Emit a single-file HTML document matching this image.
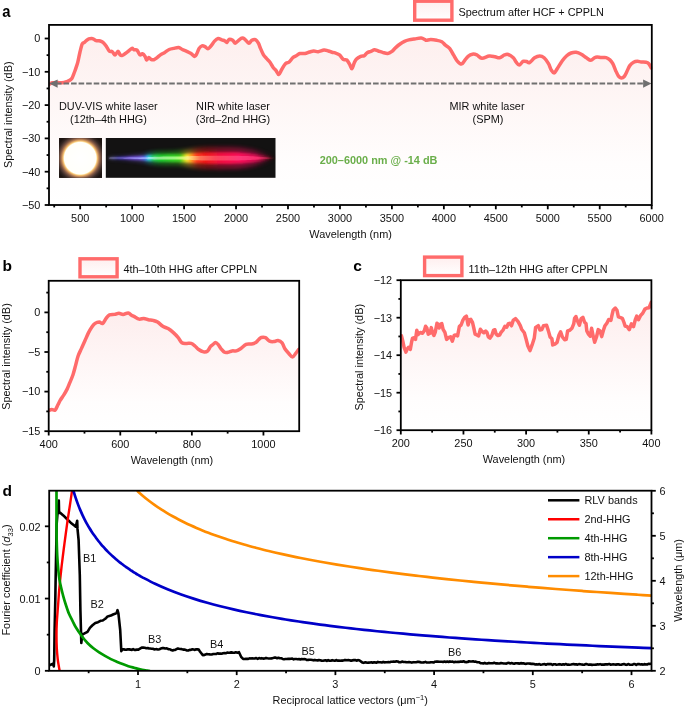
<!DOCTYPE html>
<html><head><meta charset="utf-8"><style>
html,body{margin:0;padding:0;background:#fff;}
svg{display:block;font-family:"Liberation Sans", sans-serif;will-change:transform;}
</style></head><body>
<svg width="685" height="707" viewBox="0 0 685 707">
<rect width="685" height="707" fill="#fff"/>
<defs>
<linearGradient id="gA" x1="0" y1="0" x2="0" y2="1"><stop offset="0" stop-color="#fdefee"/><stop offset="0.75" stop-color="#fffdfd"/><stop offset="1" stop-color="#ffffff"/></linearGradient>
<linearGradient id="gB" x1="0" y1="0" x2="0" y2="1"><stop offset="0" stop-color="#fdeded"/><stop offset="0.75" stop-color="#fffdfd"/><stop offset="1" stop-color="#ffffff"/></linearGradient>
<linearGradient id="gL" x1="0" y1="0" x2="0" y2="1"><stop offset="0" stop-color="#feeeee"/><stop offset="1" stop-color="#ffffff"/></linearGradient>
<radialGradient id="sun" cx="80.2" cy="158.2" r="26" gradientUnits="userSpaceOnUse"><stop offset="0" stop-color="#ffffff"/><stop offset="0.608" stop-color="#fffffa"/><stop offset="0.627" stop-color="#fff2c8"/><stop offset="0.662" stop-color="#f5c070"/><stop offset="0.712" stop-color="#c08858"/><stop offset="0.77" stop-color="#845a44"/><stop offset="0.827" stop-color="#5a4038"/><stop offset="0.904" stop-color="#332622"/><stop offset="1" stop-color="#1c1411"/></radialGradient>
<linearGradient id="rb" x1="109" y1="0" x2="273" y2="0" gradientUnits="userSpaceOnUse"><stop offset="0.000" stop-color="#a0a0e0"/><stop offset="0.055" stop-color="#4a40d0"/><stop offset="0.128" stop-color="#7050e8"/><stop offset="0.189" stop-color="#8060f0"/><stop offset="0.220" stop-color="#5080ff"/><stop offset="0.238" stop-color="#30d0f0"/><stop offset="0.268" stop-color="#28d060"/><stop offset="0.311" stop-color="#20d030"/><stop offset="0.433" stop-color="#40d020"/><stop offset="0.460" stop-color="#c0e020"/><stop offset="0.476" stop-color="#ffe030"/><stop offset="0.500" stop-color="#ffa020"/><stop offset="0.530" stop-color="#ff4020"/><stop offset="0.585" stop-color="#f01818"/><stop offset="0.677" stop-color="#f01040"/><stop offset="0.799" stop-color="#f81058"/><stop offset="0.890" stop-color="#d01050"/><stop offset="0.951" stop-color="#801030"/><stop offset="1.000" stop-color="#301010"/></linearGradient>
<linearGradient id="rbh" x1="109" y1="0" x2="273" y2="0" gradientUnits="userSpaceOnUse"><stop offset="0.000" stop-color="#c0c0f0"/><stop offset="0.128" stop-color="#b0a0ff"/><stop offset="0.220" stop-color="#a0b0ff"/><stop offset="0.244" stop-color="#a0f0ff"/><stop offset="0.299" stop-color="#a0f0a0"/><stop offset="0.402" stop-color="#b0ff90"/><stop offset="0.451" stop-color="#e0ff80"/><stop offset="0.482" stop-color="#fff090"/><stop offset="0.518" stop-color="#ffc070"/><stop offset="0.555" stop-color="#ff8060"/><stop offset="0.646" stop-color="#ff5060"/><stop offset="0.799" stop-color="#ff4080"/><stop offset="0.909" stop-color="#ff3070"/><stop offset="0.970" stop-color="#a02040"/><stop offset="1.000" stop-color="#401010"/></linearGradient>
<filter id="blur1" x="-10%" y="-100%" width="120%" height="300%"><feGaussianBlur stdDeviation="0.9"/></filter>
<filter id="blur2" x="-10%" y="-100%" width="120%" height="300%"><feGaussianBlur stdDeviation="2"/></filter>
<filter id="blur05" x="-10%" y="-100%" width="120%" height="300%"><feGaussianBlur stdDeviation="0.6"/></filter>
<clipPath id="clipSun"><rect x="59.1" y="138" width="42.9" height="39.8"/></clipPath>
<clipPath id="clipRb"><rect x="105.8" y="138" width="169.7" height="39.8"/></clipPath>
</defs>
<path d="M49.2,84.3 C49.72,84.05 51.17,83.12 52.3,82.8 C53.43,82.48 54.78,82.42 56,82.4 C57.22,82.38 58.27,82.7 59.6,82.7 C60.93,82.7 62.78,82.57 64,82.4 C65.22,82.23 65.93,82.05 66.9,81.7 C67.87,81.35 68.95,80.88 69.8,80.3 C70.65,79.72 71.38,79.15 72,78.2 C72.62,77.25 73.02,75.8 73.5,74.6 C73.98,73.4 74.42,72.33 74.9,71 C75.38,69.67 75.92,68.07 76.4,66.6 C76.88,65.13 77.2,64.63 77.8,62.2 C78.4,59.77 79.27,55.03 80,52 C80.73,48.97 81.47,45.58 82.2,44 C82.93,42.42 83.67,43.12 84.4,42.5 C85.13,41.88 85.87,40.9 86.6,40.3 C87.33,39.7 87.95,39.22 88.8,38.9 C89.65,38.58 90.85,38.33 91.7,38.4 C92.55,38.47 93.17,38.93 93.9,39.3 C94.63,39.67 95.25,40.35 96.1,40.6 C96.95,40.85 98.15,40.67 99,40.8 C99.85,40.93 100.47,41.07 101.2,41.4 C101.93,41.73 102.55,42 103.4,42.8 C104.25,43.6 105.33,44.83 106.3,46.2 C107.27,47.57 108.22,50.1 109.2,51 C110.18,51.9 111.22,50.95 112.2,51.6 C113.18,52.25 114.13,54.95 115.1,54.9 C116.07,54.85 117.15,51.3 118,51.3 C118.85,51.3 119.47,54.22 120.2,54.9 C120.93,55.58 121.55,55.63 122.4,55.4 C123.25,55.17 124.33,54.18 125.3,53.5 C126.27,52.82 127.1,52.15 128.2,51.3 C129.3,50.45 130.92,48.65 131.9,48.4 C132.88,48.15 133.25,49.52 134.1,49.8 C134.95,50.08 136.03,49.25 137,50.1 C137.97,50.95 139,54.28 139.9,54.9 C140.8,55.52 141.53,53.55 142.4,53.8 C143.27,54.05 144.4,55.37 145.1,56.4 C145.8,57.43 145.98,59.83 146.6,60 C147.22,60.17 148.08,57.52 148.8,57.4 C149.52,57.28 150.05,58.92 150.9,59.3 C151.75,59.68 152.92,59.95 153.9,59.7 C154.88,59.45 155.72,58.6 156.8,57.8 C157.88,57 159.07,55.8 160.4,54.9 C161.73,54 163.33,53.3 164.8,52.4 C166.27,51.5 167.73,50.17 169.2,49.5 C170.67,48.83 172.02,48.72 173.6,48.4 C175.18,48.08 177.25,47.42 178.7,47.6 C180.15,47.78 180.97,48.88 182.3,49.5 C183.63,50.12 185.23,50.63 186.7,51.3 C188.17,51.97 189.77,52.65 191.1,53.5 C192.43,54.35 193.73,56.4 194.7,56.4 C195.67,56.4 196.17,54.83 196.9,53.5 C197.63,52.17 198.25,49.67 199.1,48.4 C199.95,47.13 201.02,46.2 202,45.9 C202.98,45.6 204.02,46.12 205,46.6 C205.98,47.08 206.93,48.87 207.9,48.8 C208.87,48.73 209.7,47.48 210.8,46.2 C211.9,44.92 213.28,42.4 214.5,41.1 C215.72,39.8 216.88,38.6 218.1,38.4 C219.32,38.2 220.7,39.5 221.8,39.9 C222.9,40.3 223.85,40.37 224.7,40.8 C225.55,41.23 226.17,42.75 226.9,42.5 C227.63,42.25 228.13,39.67 229.1,39.3 C230.07,38.93 231.67,39.65 232.7,40.3 C233.73,40.95 234.32,43.2 235.3,43.2 C236.28,43.2 237.43,41.15 238.6,40.3 C239.77,39.45 241.2,38.22 242.3,38.1 C243.4,37.98 244.1,38.75 245.2,39.6 C246.3,40.45 247.8,43.08 248.9,43.2 C250,43.32 250.72,40.9 251.8,40.3 C252.88,39.7 254.3,39.12 255.4,39.6 C256.5,40.08 257.55,41.73 258.4,43.2 C259.25,44.67 259.65,46.45 260.5,48.4 C261.35,50.35 262.52,53.25 263.5,54.9 C264.48,56.55 265.32,57.08 266.4,58.3 C267.48,59.52 268.9,60.7 270,62.2 C271.1,63.7 272.02,65.95 273,67.3 C273.98,68.65 274.93,69.08 275.9,70.3 C276.87,71.52 277.83,74.73 278.8,74.6 C279.77,74.47 280.6,71.32 281.7,69.5 C282.8,67.68 284.18,64.92 285.4,63.7 C286.62,62.48 287.78,63.18 289,62.2 C290.22,61.22 291.48,58.88 292.7,57.8 C293.92,56.72 295.08,56.42 296.3,55.7 C297.52,54.98 298.55,53.87 300,53.5 C301.45,53.13 303.42,53.75 305,53.5 C306.58,53.25 308.03,52.42 309.5,52 C310.97,51.58 312.35,51.05 313.8,51 C315.25,50.95 316.5,51.85 318.2,51.7 C319.9,51.55 322.3,50.22 324,50.1 C325.7,49.98 327.07,50.63 328.4,51 C329.73,51.37 331,52.02 332,52.3 C333,52.58 333.15,52.27 334.4,52.7 C335.65,53.13 338.05,53.8 339.5,54.9 C340.95,56 341.88,58.45 343.1,59.3 C344.32,60.15 345.7,59.15 346.8,60 C347.9,60.85 348.85,62.93 349.7,64.4 C350.55,65.87 351.17,69 351.9,68.8 C352.63,68.6 353.37,64.78 354.1,63.2 C354.83,61.62 355.2,60.43 356.3,59.3 C357.4,58.17 359.37,57 360.7,56.4 C362.03,55.8 363.22,56.32 364.3,55.7 C365.38,55.08 366.1,53.43 367.2,52.7 C368.3,51.97 369.68,51.78 370.9,51.3 C372.12,50.82 373.28,49.85 374.5,49.8 C375.72,49.75 376.85,50.57 378.2,51 C379.55,51.43 381.02,51.98 382.6,52.4 C384.18,52.82 386.13,53.68 387.7,53.5 C389.27,53.32 390.67,52.28 392,51.3 C393.33,50.32 394.35,48.82 395.7,47.6 C397.05,46.38 398.63,45.03 400.1,44 C401.57,42.97 403.05,42.08 404.5,41.4 C405.95,40.72 407.1,40.32 408.8,39.9 C410.5,39.48 412.63,39.2 414.7,38.9 C416.77,38.6 419.48,37.98 421.2,38.1 C422.92,38.22 424.13,39.23 425,39.6 C425.87,39.97 425.43,40.3 426.4,40.3 C427.37,40.3 429.08,39.6 430.8,39.6 C432.52,39.6 434.87,39.93 436.7,40.3 C438.53,40.67 440.35,41 441.8,41.8 C443.25,42.6 444.07,43.97 445.4,45.1 C446.73,46.23 448.45,46.97 449.8,48.6 C451.15,50.23 452.28,52.87 453.5,54.9 C454.72,56.93 455.77,59.27 457.1,60.8 C458.43,62.33 460.28,64.1 461.5,64.1 C462.72,64.1 463.3,62.08 464.4,60.8 C465.5,59.52 466.77,57.5 468.1,56.4 C469.43,55.3 470.95,54.45 472.4,54.2 C473.85,53.95 475.22,54.22 476.8,54.9 C478.38,55.58 479.83,58.1 481.9,58.3 C483.97,58.5 487,56.35 489.2,56.1 C491.4,55.85 493.38,56.52 495.1,56.8 C496.82,57.08 497.92,58.12 499.5,57.8 C501.08,57.48 503.15,55.45 504.6,54.9 C506.05,54.35 506.75,54.02 508.2,54.5 C509.65,54.98 511.97,56.52 513.3,57.8 C514.63,59.08 515.22,60.98 516.2,62.2 C517.18,63.42 518.22,65.1 519.2,65.1 C520.18,65.1 521.37,62.85 522.1,62.2 C522.83,61.55 522.85,61.32 523.6,61.2 C524.35,61.08 525.62,61.25 526.6,61.5 C527.58,61.75 528.17,63.32 529.5,62.7 C530.83,62.08 532.9,58.93 534.6,57.8 C536.3,56.67 538.12,55.9 539.7,55.9 C541.28,55.9 542.63,56.5 544.1,57.8 C545.57,59.1 547.28,61.62 548.5,63.7 C549.72,65.78 550.43,68.77 551.4,70.3 C552.37,71.83 553.33,73.15 554.3,72.9 C555.27,72.65 555.87,70.82 557.2,68.8 C558.53,66.78 560.72,62.98 562.3,60.8 C563.88,58.62 565.23,57 566.7,55.7 C568.17,54.4 569.52,53.57 571.1,53 C572.68,52.43 574.5,52.1 576.2,52.3 C577.9,52.5 579.6,53.28 581.3,54.2 C583,55.12 584.82,56.78 586.4,57.8 C587.98,58.82 589.45,60.3 590.8,60.3 C592.15,60.3 593.45,58.33 594.5,57.8 C595.55,57.27 595.95,57.13 597.1,57.1 C598.25,57.07 599.9,57.52 601.4,57.6 C602.9,57.68 604.68,57.22 606.1,57.6 C607.52,57.98 608.78,58.88 609.9,59.9 C611.02,60.92 611.85,61.95 612.8,63.7 C613.75,65.45 614.65,68.33 615.6,70.4 C616.55,72.47 617.55,74.83 618.5,76.1 C619.45,77.37 620.35,77.93 621.3,78 C622.25,78.07 623.25,77.62 624.2,76.5 C625.15,75.38 626.07,73.12 627,71.3 C627.93,69.48 628.7,67.1 629.8,65.6 C630.9,64.1 632.33,63.02 633.6,62.3 C634.87,61.58 636.13,61.35 637.4,61.3 C638.67,61.25 639.77,61.83 641.2,62 C642.63,62.17 644.73,62.02 646,62.3 C647.27,62.58 647.93,62.75 648.8,63.7 C649.67,64.65 650.8,67.28 651.2,68 L651.8,205 L49,205 Z" fill="url(#gA)" stroke="none"/>
<text x="108.3" y="109.8" font-size="10.9" font-weight="normal" text-anchor="middle" fill="#111" >DUV-VIS white laser</text>
<text x="108.5" y="123.1" font-size="10.9" font-weight="normal" text-anchor="middle" fill="#111" >(12th–4th HHG)</text>
<text x="233" y="109.8" font-size="10.9" font-weight="normal" text-anchor="middle" fill="#111" >NIR white laser</text>
<text x="233" y="123.1" font-size="10.9" font-weight="normal" text-anchor="middle" fill="#111" >(3rd–2nd HHG)</text>
<text x="487" y="109.8" font-size="10.9" font-weight="normal" text-anchor="middle" fill="#111" >MIR white laser</text>
<text x="488" y="123.1" font-size="10.9" font-weight="normal" text-anchor="middle" fill="#111" >(SPM)</text>
<text x="378.6" y="164" font-size="10.9" font-weight="bold" text-anchor="middle" fill="#6aae4a" >200–6000 nm @ -14 dB</text>
<rect x="59.1" y="138" width="42.9" height="39.8" fill="#1c1411"/>
<rect x="59.1" y="138" width="42.9" height="39.8" fill="url(#sun)"/>
<rect x="105.8" y="138" width="169.7" height="39.8" fill="#131212"/>
<g clip-path="url(#clipRb)">
<path d="M109,157.53 C110,157.44 112.33,157.18 115,156.96 C117.67,156.74 121.67,156.48 125,156.2 C128.33,155.91 131.67,155.63 135,155.25 C138.33,154.87 142.5,154.39 145,153.92 C147.5,153.44 147.5,152.84 150,152.4 C152.5,151.96 155.83,151.51 160,151.26 C164.17,151.01 170.83,151.07 175,150.88 C179.17,150.69 181.67,150.56 185,150.12 C188.33,149.68 190.83,148.73 195,148.22 C199.17,147.71 204.17,147.27 210,147.08 C215.83,146.89 224.17,146.89 230,147.08 C235.83,147.27 240.83,147.71 245,148.22 C249.17,148.73 252,149.36 255,150.12 C258,150.88 260.67,151.93 263,152.78 C265.33,153.63 267.33,154.52 269,155.25 C270.67,155.98 272,156.74 273,157.15 C274,157.56 274.67,157.62 275,157.72 L275,158.48 C274.67,158.57 274,158.64 273,159.05 C272,159.46 270.67,160.22 269,160.95 C267.33,161.68 265.33,162.56 263,163.42 C260.67,164.27 258,165.32 255,166.08 C252,166.84 249.17,167.47 245,167.98 C240.83,168.49 235.83,168.93 230,169.12 C224.17,169.31 215.83,169.31 210,169.12 C204.17,168.93 199.17,168.49 195,167.98 C190.83,167.47 188.33,166.52 185,166.08 C181.67,165.64 179.17,165.51 175,165.32 C170.83,165.13 164.17,165.19 160,164.94 C155.83,164.69 152.5,164.24 150,163.8 C147.5,163.36 147.5,162.75 145,162.28 C142.5,161.81 138.33,161.33 135,160.95 C131.67,160.57 128.33,160.28 125,160 C121.67,159.72 117.67,159.46 115,159.24 C112.33,159.02 110,158.76 109,158.67 Z" fill="url(#rb)" opacity="0.45" filter="url(#blur2)"/>
<path d="M109,157.8 C110,157.75 112.33,157.62 115,157.5 C117.67,157.38 121.67,157.25 125,157.1 C128.33,156.95 131.67,156.8 135,156.6 C138.33,156.4 142.5,156.15 145,155.9 C147.5,155.65 147.5,155.33 150,155.1 C152.5,154.87 155.83,154.63 160,154.5 C164.17,154.37 170.83,154.4 175,154.3 C179.17,154.2 181.67,154.13 185,153.9 C188.33,153.67 190.83,153.17 195,152.9 C199.17,152.63 204.17,152.4 210,152.3 C215.83,152.2 224.17,152.2 230,152.3 C235.83,152.4 240.83,152.63 245,152.9 C249.17,153.17 252,153.5 255,153.9 C258,154.3 260.67,154.85 263,155.3 C265.33,155.75 267.33,156.22 269,156.6 C270.67,156.98 272,157.38 273,157.6 C274,157.82 274.67,157.85 275,157.9 L275,158.3 C274.67,158.35 274,158.38 273,158.6 C272,158.82 270.67,159.22 269,159.6 C267.33,159.98 265.33,160.45 263,160.9 C260.67,161.35 258,161.9 255,162.3 C252,162.7 249.17,163.03 245,163.3 C240.83,163.57 235.83,163.8 230,163.9 C224.17,164 215.83,164 210,163.9 C204.17,163.8 199.17,163.57 195,163.3 C190.83,163.03 188.33,162.53 185,162.3 C181.67,162.07 179.17,162 175,161.9 C170.83,161.8 164.17,161.83 160,161.7 C155.83,161.57 152.5,161.33 150,161.1 C147.5,160.87 147.5,160.55 145,160.3 C142.5,160.05 138.33,159.8 135,159.6 C131.67,159.4 128.33,159.25 125,159.1 C121.67,158.95 117.67,158.82 115,158.7 C112.33,158.58 110,158.45 109,158.4 Z" fill="url(#rb)" filter="url(#blur1)"/>
<path d="M109,157.98 C110,157.96 112.33,157.91 115,157.86 C117.67,157.81 121.67,157.76 125,157.7 C128.33,157.64 131.67,157.58 135,157.5 C138.33,157.42 142.5,157.32 145,157.22 C147.5,157.12 147.5,156.99 150,156.9 C152.5,156.81 155.83,156.71 160,156.66 C164.17,156.61 170.83,156.62 175,156.58 C179.17,156.54 181.67,156.51 185,156.42 C188.33,156.33 190.83,156.13 195,156.02 C199.17,155.91 204.17,155.82 210,155.78 C215.83,155.74 224.17,155.74 230,155.78 C235.83,155.82 240.83,155.91 245,156.02 C249.17,156.13 252,156.26 255,156.42 C258,156.58 260.67,156.8 263,156.98 C265.33,157.16 267.33,157.35 269,157.5 C270.67,157.65 272,157.81 273,157.9 C274,157.99 274.67,158 275,158.02 L275,158.18 C274.67,158.2 274,158.21 273,158.3 C272,158.39 270.67,158.55 269,158.7 C267.33,158.85 265.33,159.04 263,159.22 C260.67,159.4 258,159.62 255,159.78 C252,159.94 249.17,160.07 245,160.18 C240.83,160.29 235.83,160.38 230,160.42 C224.17,160.46 215.83,160.46 210,160.42 C204.17,160.38 199.17,160.29 195,160.18 C190.83,160.07 188.33,159.87 185,159.78 C181.67,159.69 179.17,159.66 175,159.62 C170.83,159.58 164.17,159.59 160,159.54 C155.83,159.49 152.5,159.39 150,159.3 C147.5,159.21 147.5,159.08 145,158.98 C142.5,158.88 138.33,158.78 135,158.7 C131.67,158.62 128.33,158.56 125,158.5 C121.67,158.44 117.67,158.39 115,158.34 C112.33,158.29 110,158.24 109,158.22 Z" fill="url(#rbh)" opacity="0.85" filter="url(#blur05)"/>
</g>
<clipPath id="clipA"><rect x="49" y="24.9" width="603.3" height="180.1"/></clipPath>
<path d="M49.2,84.3 C49.72,84.05 51.17,83.12 52.3,82.8 C53.43,82.48 54.78,82.42 56,82.4 C57.22,82.38 58.27,82.7 59.6,82.7 C60.93,82.7 62.78,82.57 64,82.4 C65.22,82.23 65.93,82.05 66.9,81.7 C67.87,81.35 68.95,80.88 69.8,80.3 C70.65,79.72 71.38,79.15 72,78.2 C72.62,77.25 73.02,75.8 73.5,74.6 C73.98,73.4 74.42,72.33 74.9,71 C75.38,69.67 75.92,68.07 76.4,66.6 C76.88,65.13 77.2,64.63 77.8,62.2 C78.4,59.77 79.27,55.03 80,52 C80.73,48.97 81.47,45.58 82.2,44 C82.93,42.42 83.67,43.12 84.4,42.5 C85.13,41.88 85.87,40.9 86.6,40.3 C87.33,39.7 87.95,39.22 88.8,38.9 C89.65,38.58 90.85,38.33 91.7,38.4 C92.55,38.47 93.17,38.93 93.9,39.3 C94.63,39.67 95.25,40.35 96.1,40.6 C96.95,40.85 98.15,40.67 99,40.8 C99.85,40.93 100.47,41.07 101.2,41.4 C101.93,41.73 102.55,42 103.4,42.8 C104.25,43.6 105.33,44.83 106.3,46.2 C107.27,47.57 108.22,50.1 109.2,51 C110.18,51.9 111.22,50.95 112.2,51.6 C113.18,52.25 114.13,54.95 115.1,54.9 C116.07,54.85 117.15,51.3 118,51.3 C118.85,51.3 119.47,54.22 120.2,54.9 C120.93,55.58 121.55,55.63 122.4,55.4 C123.25,55.17 124.33,54.18 125.3,53.5 C126.27,52.82 127.1,52.15 128.2,51.3 C129.3,50.45 130.92,48.65 131.9,48.4 C132.88,48.15 133.25,49.52 134.1,49.8 C134.95,50.08 136.03,49.25 137,50.1 C137.97,50.95 139,54.28 139.9,54.9 C140.8,55.52 141.53,53.55 142.4,53.8 C143.27,54.05 144.4,55.37 145.1,56.4 C145.8,57.43 145.98,59.83 146.6,60 C147.22,60.17 148.08,57.52 148.8,57.4 C149.52,57.28 150.05,58.92 150.9,59.3 C151.75,59.68 152.92,59.95 153.9,59.7 C154.88,59.45 155.72,58.6 156.8,57.8 C157.88,57 159.07,55.8 160.4,54.9 C161.73,54 163.33,53.3 164.8,52.4 C166.27,51.5 167.73,50.17 169.2,49.5 C170.67,48.83 172.02,48.72 173.6,48.4 C175.18,48.08 177.25,47.42 178.7,47.6 C180.15,47.78 180.97,48.88 182.3,49.5 C183.63,50.12 185.23,50.63 186.7,51.3 C188.17,51.97 189.77,52.65 191.1,53.5 C192.43,54.35 193.73,56.4 194.7,56.4 C195.67,56.4 196.17,54.83 196.9,53.5 C197.63,52.17 198.25,49.67 199.1,48.4 C199.95,47.13 201.02,46.2 202,45.9 C202.98,45.6 204.02,46.12 205,46.6 C205.98,47.08 206.93,48.87 207.9,48.8 C208.87,48.73 209.7,47.48 210.8,46.2 C211.9,44.92 213.28,42.4 214.5,41.1 C215.72,39.8 216.88,38.6 218.1,38.4 C219.32,38.2 220.7,39.5 221.8,39.9 C222.9,40.3 223.85,40.37 224.7,40.8 C225.55,41.23 226.17,42.75 226.9,42.5 C227.63,42.25 228.13,39.67 229.1,39.3 C230.07,38.93 231.67,39.65 232.7,40.3 C233.73,40.95 234.32,43.2 235.3,43.2 C236.28,43.2 237.43,41.15 238.6,40.3 C239.77,39.45 241.2,38.22 242.3,38.1 C243.4,37.98 244.1,38.75 245.2,39.6 C246.3,40.45 247.8,43.08 248.9,43.2 C250,43.32 250.72,40.9 251.8,40.3 C252.88,39.7 254.3,39.12 255.4,39.6 C256.5,40.08 257.55,41.73 258.4,43.2 C259.25,44.67 259.65,46.45 260.5,48.4 C261.35,50.35 262.52,53.25 263.5,54.9 C264.48,56.55 265.32,57.08 266.4,58.3 C267.48,59.52 268.9,60.7 270,62.2 C271.1,63.7 272.02,65.95 273,67.3 C273.98,68.65 274.93,69.08 275.9,70.3 C276.87,71.52 277.83,74.73 278.8,74.6 C279.77,74.47 280.6,71.32 281.7,69.5 C282.8,67.68 284.18,64.92 285.4,63.7 C286.62,62.48 287.78,63.18 289,62.2 C290.22,61.22 291.48,58.88 292.7,57.8 C293.92,56.72 295.08,56.42 296.3,55.7 C297.52,54.98 298.55,53.87 300,53.5 C301.45,53.13 303.42,53.75 305,53.5 C306.58,53.25 308.03,52.42 309.5,52 C310.97,51.58 312.35,51.05 313.8,51 C315.25,50.95 316.5,51.85 318.2,51.7 C319.9,51.55 322.3,50.22 324,50.1 C325.7,49.98 327.07,50.63 328.4,51 C329.73,51.37 331,52.02 332,52.3 C333,52.58 333.15,52.27 334.4,52.7 C335.65,53.13 338.05,53.8 339.5,54.9 C340.95,56 341.88,58.45 343.1,59.3 C344.32,60.15 345.7,59.15 346.8,60 C347.9,60.85 348.85,62.93 349.7,64.4 C350.55,65.87 351.17,69 351.9,68.8 C352.63,68.6 353.37,64.78 354.1,63.2 C354.83,61.62 355.2,60.43 356.3,59.3 C357.4,58.17 359.37,57 360.7,56.4 C362.03,55.8 363.22,56.32 364.3,55.7 C365.38,55.08 366.1,53.43 367.2,52.7 C368.3,51.97 369.68,51.78 370.9,51.3 C372.12,50.82 373.28,49.85 374.5,49.8 C375.72,49.75 376.85,50.57 378.2,51 C379.55,51.43 381.02,51.98 382.6,52.4 C384.18,52.82 386.13,53.68 387.7,53.5 C389.27,53.32 390.67,52.28 392,51.3 C393.33,50.32 394.35,48.82 395.7,47.6 C397.05,46.38 398.63,45.03 400.1,44 C401.57,42.97 403.05,42.08 404.5,41.4 C405.95,40.72 407.1,40.32 408.8,39.9 C410.5,39.48 412.63,39.2 414.7,38.9 C416.77,38.6 419.48,37.98 421.2,38.1 C422.92,38.22 424.13,39.23 425,39.6 C425.87,39.97 425.43,40.3 426.4,40.3 C427.37,40.3 429.08,39.6 430.8,39.6 C432.52,39.6 434.87,39.93 436.7,40.3 C438.53,40.67 440.35,41 441.8,41.8 C443.25,42.6 444.07,43.97 445.4,45.1 C446.73,46.23 448.45,46.97 449.8,48.6 C451.15,50.23 452.28,52.87 453.5,54.9 C454.72,56.93 455.77,59.27 457.1,60.8 C458.43,62.33 460.28,64.1 461.5,64.1 C462.72,64.1 463.3,62.08 464.4,60.8 C465.5,59.52 466.77,57.5 468.1,56.4 C469.43,55.3 470.95,54.45 472.4,54.2 C473.85,53.95 475.22,54.22 476.8,54.9 C478.38,55.58 479.83,58.1 481.9,58.3 C483.97,58.5 487,56.35 489.2,56.1 C491.4,55.85 493.38,56.52 495.1,56.8 C496.82,57.08 497.92,58.12 499.5,57.8 C501.08,57.48 503.15,55.45 504.6,54.9 C506.05,54.35 506.75,54.02 508.2,54.5 C509.65,54.98 511.97,56.52 513.3,57.8 C514.63,59.08 515.22,60.98 516.2,62.2 C517.18,63.42 518.22,65.1 519.2,65.1 C520.18,65.1 521.37,62.85 522.1,62.2 C522.83,61.55 522.85,61.32 523.6,61.2 C524.35,61.08 525.62,61.25 526.6,61.5 C527.58,61.75 528.17,63.32 529.5,62.7 C530.83,62.08 532.9,58.93 534.6,57.8 C536.3,56.67 538.12,55.9 539.7,55.9 C541.28,55.9 542.63,56.5 544.1,57.8 C545.57,59.1 547.28,61.62 548.5,63.7 C549.72,65.78 550.43,68.77 551.4,70.3 C552.37,71.83 553.33,73.15 554.3,72.9 C555.27,72.65 555.87,70.82 557.2,68.8 C558.53,66.78 560.72,62.98 562.3,60.8 C563.88,58.62 565.23,57 566.7,55.7 C568.17,54.4 569.52,53.57 571.1,53 C572.68,52.43 574.5,52.1 576.2,52.3 C577.9,52.5 579.6,53.28 581.3,54.2 C583,55.12 584.82,56.78 586.4,57.8 C587.98,58.82 589.45,60.3 590.8,60.3 C592.15,60.3 593.45,58.33 594.5,57.8 C595.55,57.27 595.95,57.13 597.1,57.1 C598.25,57.07 599.9,57.52 601.4,57.6 C602.9,57.68 604.68,57.22 606.1,57.6 C607.52,57.98 608.78,58.88 609.9,59.9 C611.02,60.92 611.85,61.95 612.8,63.7 C613.75,65.45 614.65,68.33 615.6,70.4 C616.55,72.47 617.55,74.83 618.5,76.1 C619.45,77.37 620.35,77.93 621.3,78 C622.25,78.07 623.25,77.62 624.2,76.5 C625.15,75.38 626.07,73.12 627,71.3 C627.93,69.48 628.7,67.1 629.8,65.6 C630.9,64.1 632.33,63.02 633.6,62.3 C634.87,61.58 636.13,61.35 637.4,61.3 C638.67,61.25 639.77,61.83 641.2,62 C642.63,62.17 644.73,62.02 646,62.3 C647.27,62.58 647.93,62.75 648.8,63.7 C649.67,64.65 650.8,67.28 651.2,68" fill="none" stroke="#ff6b6b" stroke-width="3.5" stroke-linejoin="round" stroke-linecap="round" clip-path="url(#clipA)"/>
<line x1="55.95" y1="83.6" x2="644" y2="83.6" stroke="#707070" stroke-width="2" stroke-dasharray="5.6 1.95"/>
<path d="M49.2,83.6 L57.6,79.5 L57.6,87.7 Z" fill="#707070"/>
<path d="M651.5,83.6 L643.1,79.5 L643.1,87.7 Z" fill="#707070"/>
<rect x="49" y="24.9" width="602.8" height="180.1" fill="none" stroke="#000" stroke-width="1.8"/>
<line x1="44.7" y1="38.5" x2="49" y2="38.5" stroke="#000" stroke-width="1.8"/>
<text x="40.4" y="42.3" font-size="10.9" font-weight="normal" text-anchor="end" fill="#111" >0</text>
<line x1="44.7" y1="71.8" x2="49" y2="71.8" stroke="#000" stroke-width="1.8"/>
<text x="40.4" y="75.6" font-size="10.9" font-weight="normal" text-anchor="end" fill="#111" >−10</text>
<line x1="44.7" y1="105.1" x2="49" y2="105.1" stroke="#000" stroke-width="1.8"/>
<text x="40.4" y="108.9" font-size="10.9" font-weight="normal" text-anchor="end" fill="#111" >−20</text>
<line x1="44.7" y1="138.4" x2="49" y2="138.4" stroke="#000" stroke-width="1.8"/>
<text x="40.4" y="142.2" font-size="10.9" font-weight="normal" text-anchor="end" fill="#111" >−30</text>
<line x1="44.7" y1="171.7" x2="49" y2="171.7" stroke="#000" stroke-width="1.8"/>
<text x="40.4" y="175.5" font-size="10.9" font-weight="normal" text-anchor="end" fill="#111" >−40</text>
<line x1="44.7" y1="205" x2="49" y2="205" stroke="#000" stroke-width="1.8"/>
<text x="40.4" y="208.8" font-size="10.9" font-weight="normal" text-anchor="end" fill="#111" >−50</text>
<line x1="46.6" y1="55.15" x2="49" y2="55.15" stroke="#000" stroke-width="1.8"/>
<line x1="46.6" y1="88.45" x2="49" y2="88.45" stroke="#000" stroke-width="1.8"/>
<line x1="46.6" y1="121.75" x2="49" y2="121.75" stroke="#000" stroke-width="1.8"/>
<line x1="46.6" y1="155.05" x2="49" y2="155.05" stroke="#000" stroke-width="1.8"/>
<line x1="46.6" y1="188.35" x2="49" y2="188.35" stroke="#000" stroke-width="1.8"/>
<line x1="80.17" y1="205" x2="80.17" y2="209.3" stroke="#000" stroke-width="1.8"/>
<text x="80.17" y="222" font-size="10.9" font-weight="normal" text-anchor="middle" fill="#111" >500</text>
<line x1="132.13" y1="205" x2="132.13" y2="209.3" stroke="#000" stroke-width="1.8"/>
<text x="132.13" y="222" font-size="10.9" font-weight="normal" text-anchor="middle" fill="#111" >1000</text>
<line x1="184.08" y1="205" x2="184.08" y2="209.3" stroke="#000" stroke-width="1.8"/>
<text x="184.08" y="222" font-size="10.9" font-weight="normal" text-anchor="middle" fill="#111" >1500</text>
<line x1="236.04" y1="205" x2="236.04" y2="209.3" stroke="#000" stroke-width="1.8"/>
<text x="236.04" y="222" font-size="10.9" font-weight="normal" text-anchor="middle" fill="#111" >2000</text>
<line x1="287.99" y1="205" x2="287.99" y2="209.3" stroke="#000" stroke-width="1.8"/>
<text x="287.99" y="222" font-size="10.9" font-weight="normal" text-anchor="middle" fill="#111" >2500</text>
<line x1="339.95" y1="205" x2="339.95" y2="209.3" stroke="#000" stroke-width="1.8"/>
<text x="339.95" y="222" font-size="10.9" font-weight="normal" text-anchor="middle" fill="#111" >3000</text>
<line x1="391.9" y1="205" x2="391.9" y2="209.3" stroke="#000" stroke-width="1.8"/>
<text x="391.9" y="222" font-size="10.9" font-weight="normal" text-anchor="middle" fill="#111" >3500</text>
<line x1="443.86" y1="205" x2="443.86" y2="209.3" stroke="#000" stroke-width="1.8"/>
<text x="443.86" y="222" font-size="10.9" font-weight="normal" text-anchor="middle" fill="#111" >4000</text>
<line x1="495.81" y1="205" x2="495.81" y2="209.3" stroke="#000" stroke-width="1.8"/>
<text x="495.81" y="222" font-size="10.9" font-weight="normal" text-anchor="middle" fill="#111" >4500</text>
<line x1="547.77" y1="205" x2="547.77" y2="209.3" stroke="#000" stroke-width="1.8"/>
<text x="547.77" y="222" font-size="10.9" font-weight="normal" text-anchor="middle" fill="#111" >5000</text>
<line x1="599.72" y1="205" x2="599.72" y2="209.3" stroke="#000" stroke-width="1.8"/>
<text x="599.72" y="222" font-size="10.9" font-weight="normal" text-anchor="middle" fill="#111" >5500</text>
<line x1="651.68" y1="205" x2="651.68" y2="209.3" stroke="#000" stroke-width="1.8"/>
<text x="651.68" y="222" font-size="10.9" font-weight="normal" text-anchor="middle" fill="#111" >6000</text>
<line x1="54.2" y1="205" x2="54.2" y2="207.4" stroke="#000" stroke-width="1.8"/>
<line x1="106.15" y1="205" x2="106.15" y2="207.4" stroke="#000" stroke-width="1.8"/>
<line x1="158.11" y1="205" x2="158.11" y2="207.4" stroke="#000" stroke-width="1.8"/>
<line x1="210.06" y1="205" x2="210.06" y2="207.4" stroke="#000" stroke-width="1.8"/>
<line x1="262.02" y1="205" x2="262.02" y2="207.4" stroke="#000" stroke-width="1.8"/>
<line x1="313.97" y1="205" x2="313.97" y2="207.4" stroke="#000" stroke-width="1.8"/>
<line x1="365.93" y1="205" x2="365.93" y2="207.4" stroke="#000" stroke-width="1.8"/>
<line x1="417.88" y1="205" x2="417.88" y2="207.4" stroke="#000" stroke-width="1.8"/>
<line x1="469.84" y1="205" x2="469.84" y2="207.4" stroke="#000" stroke-width="1.8"/>
<line x1="521.79" y1="205" x2="521.79" y2="207.4" stroke="#000" stroke-width="1.8"/>
<line x1="573.75" y1="205" x2="573.75" y2="207.4" stroke="#000" stroke-width="1.8"/>
<line x1="625.7" y1="205" x2="625.7" y2="207.4" stroke="#000" stroke-width="1.8"/>
<text x="350.6" y="237.6" font-size="10.9" font-weight="normal" text-anchor="middle" fill="#111" >Wavelength (nm)</text>
<text x="12" y="114.7" font-size="10.9" font-weight="normal" text-anchor="middle" fill="#111" transform="rotate(-90 12 114.7)">Spectral intensity (dB)</text>
<rect x="414.7" y="1.2" width="37.2" height="19" fill="url(#gL)" stroke="#ff6b6b" stroke-width="3.4"/>
<text x="458.4" y="16.2" font-size="10.9" font-weight="normal" text-anchor="start" fill="#111" >Spectrum after HCF + CPPLN</text>
<text x="2.2" y="17.1" font-size="17.2" font-weight="bold" text-anchor="start" fill="#000" transform="translate(2.2,0) scale(0.86,1) translate(-2.2,0)">a</text>
<path d="M49.2,410.4 C49.63,410.25 50.8,409.57 51.8,409.5 C52.8,409.43 54.22,410.7 55.2,410 C56.18,409.3 56.85,406.93 57.7,405.3 C58.55,403.67 59.3,401.9 60.3,400.2 C61.3,398.5 62.57,396.95 63.7,395.1 C64.83,393.25 66.12,391.08 67.1,389.1 C68.08,387.12 68.62,385.6 69.6,383.2 C70.58,380.8 72,377.67 73,374.7 C74,371.73 74.75,368.52 75.6,365.4 C76.45,362.28 77.12,358.83 78.1,356 C79.08,353.17 80.37,350.93 81.5,348.4 C82.63,345.87 83.77,343.35 84.9,340.8 C86.03,338.25 87.17,335.37 88.3,333.1 C89.43,330.83 90.57,328.82 91.7,327.2 C92.83,325.58 93.83,324.25 95.1,323.4 C96.37,322.55 98.03,322.1 99.3,322.1 C100.57,322.1 101.57,324.03 102.7,323.4 C103.83,322.77 104.97,319.72 106.1,318.3 C107.23,316.88 108.08,315.55 109.5,314.9 C110.92,314.25 113.03,314.68 114.6,314.4 C116.17,314.12 117.48,313.2 118.9,313.2 C120.32,313.2 121.55,314.45 123.1,314.4 C124.65,314.35 126.78,312.75 128.2,312.9 C129.62,313.05 130.65,314.72 131.6,315.3 C132.55,315.88 132.63,315.77 133.9,316.4 C135.17,317.03 137.55,318.77 139.2,319.1 C140.85,319.43 142.27,318.3 143.8,318.4 C145.33,318.5 146.87,319.37 148.4,319.7 C149.93,320.03 151.47,320 153,320.4 C154.53,320.8 155.97,321.12 157.6,322.1 C159.23,323.08 161.05,325.22 162.8,326.3 C164.55,327.38 166.33,327.55 168.1,328.6 C169.87,329.65 171.75,331.13 173.4,332.6 C175.05,334.07 176.58,335.72 178,337.4 C179.42,339.08 180.48,341.7 181.9,342.7 C183.32,343.7 184.97,343.28 186.5,343.4 C188.03,343.52 189.68,342.97 191.1,343.4 C192.52,343.83 193.8,345.02 195,346 C196.2,346.98 196.87,348.32 198.3,349.3 C199.73,350.28 202.07,351.58 203.6,351.9 C205.13,352.22 206.35,352.1 207.5,351.2 C208.65,350.3 209.62,347.58 210.5,346.5 C211.38,345.42 211.97,345.35 212.8,344.7 C213.63,344.05 214.58,342.6 215.5,342.6 C216.42,342.6 217.37,343.67 218.3,344.7 C219.23,345.73 220.05,347.53 221.1,348.8 C222.15,350.07 223.45,351.72 224.6,352.3 C225.75,352.88 226.73,352.53 228,352.3 C229.27,352.07 230.8,351.13 232.2,350.9 C233.6,350.67 235.02,351.25 236.4,350.9 C237.78,350.55 238.88,349.88 240.5,348.8 C242.12,347.72 244.25,345.2 246.1,344.4 C247.95,343.6 249.98,344.3 251.6,344 C253.22,343.7 254.65,343.3 255.8,342.6 C256.95,341.9 257.58,340.65 258.5,339.8 C259.42,338.95 260.13,337.85 261.3,337.5 C262.47,337.15 264.12,337.08 265.5,337.7 C266.88,338.32 268.22,340.55 269.6,341.2 C270.98,341.85 272.4,341.72 273.8,341.6 C275.2,341.48 276.62,340.28 278,340.5 C279.38,340.72 280.95,341.52 282.1,342.9 C283.25,344.28 283.85,347.12 284.9,348.8 C285.95,350.48 287.13,351.65 288.4,353 C289.67,354.35 291.23,356.9 292.5,356.9 C293.77,356.9 294.95,354.27 296,353 C297.05,351.73 298.33,349.92 298.8,349.3 L299.2,431.2 L48.7,431.2 Z" fill="url(#gB)" stroke="none"/>
<clipPath id="clipB"><rect x="48.7" y="280.8" width="250.8" height="150.4"/></clipPath>
<path d="M49.2,410.4 C49.63,410.25 50.8,409.57 51.8,409.5 C52.8,409.43 54.22,410.7 55.2,410 C56.18,409.3 56.85,406.93 57.7,405.3 C58.55,403.67 59.3,401.9 60.3,400.2 C61.3,398.5 62.57,396.95 63.7,395.1 C64.83,393.25 66.12,391.08 67.1,389.1 C68.08,387.12 68.62,385.6 69.6,383.2 C70.58,380.8 72,377.67 73,374.7 C74,371.73 74.75,368.52 75.6,365.4 C76.45,362.28 77.12,358.83 78.1,356 C79.08,353.17 80.37,350.93 81.5,348.4 C82.63,345.87 83.77,343.35 84.9,340.8 C86.03,338.25 87.17,335.37 88.3,333.1 C89.43,330.83 90.57,328.82 91.7,327.2 C92.83,325.58 93.83,324.25 95.1,323.4 C96.37,322.55 98.03,322.1 99.3,322.1 C100.57,322.1 101.57,324.03 102.7,323.4 C103.83,322.77 104.97,319.72 106.1,318.3 C107.23,316.88 108.08,315.55 109.5,314.9 C110.92,314.25 113.03,314.68 114.6,314.4 C116.17,314.12 117.48,313.2 118.9,313.2 C120.32,313.2 121.55,314.45 123.1,314.4 C124.65,314.35 126.78,312.75 128.2,312.9 C129.62,313.05 130.65,314.72 131.6,315.3 C132.55,315.88 132.63,315.77 133.9,316.4 C135.17,317.03 137.55,318.77 139.2,319.1 C140.85,319.43 142.27,318.3 143.8,318.4 C145.33,318.5 146.87,319.37 148.4,319.7 C149.93,320.03 151.47,320 153,320.4 C154.53,320.8 155.97,321.12 157.6,322.1 C159.23,323.08 161.05,325.22 162.8,326.3 C164.55,327.38 166.33,327.55 168.1,328.6 C169.87,329.65 171.75,331.13 173.4,332.6 C175.05,334.07 176.58,335.72 178,337.4 C179.42,339.08 180.48,341.7 181.9,342.7 C183.32,343.7 184.97,343.28 186.5,343.4 C188.03,343.52 189.68,342.97 191.1,343.4 C192.52,343.83 193.8,345.02 195,346 C196.2,346.98 196.87,348.32 198.3,349.3 C199.73,350.28 202.07,351.58 203.6,351.9 C205.13,352.22 206.35,352.1 207.5,351.2 C208.65,350.3 209.62,347.58 210.5,346.5 C211.38,345.42 211.97,345.35 212.8,344.7 C213.63,344.05 214.58,342.6 215.5,342.6 C216.42,342.6 217.37,343.67 218.3,344.7 C219.23,345.73 220.05,347.53 221.1,348.8 C222.15,350.07 223.45,351.72 224.6,352.3 C225.75,352.88 226.73,352.53 228,352.3 C229.27,352.07 230.8,351.13 232.2,350.9 C233.6,350.67 235.02,351.25 236.4,350.9 C237.78,350.55 238.88,349.88 240.5,348.8 C242.12,347.72 244.25,345.2 246.1,344.4 C247.95,343.6 249.98,344.3 251.6,344 C253.22,343.7 254.65,343.3 255.8,342.6 C256.95,341.9 257.58,340.65 258.5,339.8 C259.42,338.95 260.13,337.85 261.3,337.5 C262.47,337.15 264.12,337.08 265.5,337.7 C266.88,338.32 268.22,340.55 269.6,341.2 C270.98,341.85 272.4,341.72 273.8,341.6 C275.2,341.48 276.62,340.28 278,340.5 C279.38,340.72 280.95,341.52 282.1,342.9 C283.25,344.28 283.85,347.12 284.9,348.8 C285.95,350.48 287.13,351.65 288.4,353 C289.67,354.35 291.23,356.9 292.5,356.9 C293.77,356.9 294.95,354.27 296,353 C297.05,351.73 298.33,349.92 298.8,349.3" fill="none" stroke="#ff6b6b" stroke-width="3.5" stroke-linejoin="round" stroke-linecap="round" clip-path="url(#clipB)"/>
<rect x="48.7" y="280.8" width="250.5" height="150.4" fill="none" stroke="#000" stroke-width="1.8"/>
<line x1="44.4" y1="312.4" x2="48.7" y2="312.4" stroke="#000" stroke-width="1.8"/>
<text x="40.4" y="316.2" font-size="10.9" font-weight="normal" text-anchor="end" fill="#111" >0</text>
<line x1="44.4" y1="352" x2="48.7" y2="352" stroke="#000" stroke-width="1.8"/>
<text x="40.4" y="355.8" font-size="10.9" font-weight="normal" text-anchor="end" fill="#111" >−5</text>
<line x1="44.4" y1="391.6" x2="48.7" y2="391.6" stroke="#000" stroke-width="1.8"/>
<text x="40.4" y="395.4" font-size="10.9" font-weight="normal" text-anchor="end" fill="#111" >−10</text>
<line x1="44.4" y1="431.2" x2="48.7" y2="431.2" stroke="#000" stroke-width="1.8"/>
<text x="40.4" y="435" font-size="10.9" font-weight="normal" text-anchor="end" fill="#111" >−15</text>
<line x1="46.3" y1="292.6" x2="48.7" y2="292.6" stroke="#000" stroke-width="1.8"/>
<line x1="46.3" y1="332.2" x2="48.7" y2="332.2" stroke="#000" stroke-width="1.8"/>
<line x1="46.3" y1="371.8" x2="48.7" y2="371.8" stroke="#000" stroke-width="1.8"/>
<line x1="46.3" y1="411.4" x2="48.7" y2="411.4" stroke="#000" stroke-width="1.8"/>
<line x1="48.7" y1="431.2" x2="48.7" y2="435.5" stroke="#000" stroke-width="1.8"/>
<text x="48.7" y="448.2" font-size="10.9" font-weight="normal" text-anchor="middle" fill="#111" >400</text>
<line x1="120.28" y1="431.2" x2="120.28" y2="435.5" stroke="#000" stroke-width="1.8"/>
<text x="120.28" y="448.2" font-size="10.9" font-weight="normal" text-anchor="middle" fill="#111" >600</text>
<line x1="191.86" y1="431.2" x2="191.86" y2="435.5" stroke="#000" stroke-width="1.8"/>
<text x="191.86" y="448.2" font-size="10.9" font-weight="normal" text-anchor="middle" fill="#111" >800</text>
<line x1="263.44" y1="431.2" x2="263.44" y2="435.5" stroke="#000" stroke-width="1.8"/>
<text x="263.44" y="448.2" font-size="10.9" font-weight="normal" text-anchor="middle" fill="#111" >1000</text>
<line x1="84.49" y1="431.2" x2="84.49" y2="433.6" stroke="#000" stroke-width="1.8"/>
<line x1="156.07" y1="431.2" x2="156.07" y2="433.6" stroke="#000" stroke-width="1.8"/>
<line x1="227.65" y1="431.2" x2="227.65" y2="433.6" stroke="#000" stroke-width="1.8"/>
<text x="172" y="464" font-size="10.9" font-weight="normal" text-anchor="middle" fill="#111" >Wavelength (nm)</text>
<text x="10" y="356.5" font-size="10.9" font-weight="normal" text-anchor="middle" fill="#111" transform="rotate(-90 10 356.5)">Spectral intensity (dB)</text>
<rect x="80" y="258.8" width="37.1" height="18" fill="url(#gL)" stroke="#ff6b6b" stroke-width="3.4"/>
<text x="123.4" y="273" font-size="10.9" font-weight="normal" text-anchor="start" fill="#111" >4th–10th HHG after CPPLN</text>
<text x="2.4" y="271" font-size="15.5" font-weight="bold" text-anchor="start" fill="#000" >b</text>
<path d="M401.5,335.9 L402.8,341.2 L404.1,347.3 L405.9,352.1 L407.2,349 L408.5,347.3 L410.3,349.5 L411.6,342 L412.5,338.1 L414.2,337.7 L415.5,339.4 L416.8,330.2 L418.1,334.6 L420.3,332.4 L422.5,333.3 L424.3,330.7 L425.6,326.3 L426.9,328 L428.2,334.2 L430,333.3 L431.3,327.6 L432.6,332.8 L433.9,335.5 L435.2,332.4 L437,323.2 L438.3,324.5 L439.2,328 L440.5,324.1 L441.8,323.6 L443.1,329.3 L444.9,332.4 L446.6,339.4 L448.4,337.7 L450.6,336.8 L452.3,341.2 L454.1,335.5 L455.5,335 L457.6,335.9 L459.4,326.3 L461.1,325 L462.9,320.1 L464.6,317.5 L466.4,316.2 L468.1,325 L469.5,319.7 L470.8,319.3 L472.5,322.3 L473.8,328 L475.1,334.2 L476.9,335 L478.6,335.9 L480.4,329.3 L482.2,331.5 L483.9,332.8 L485.7,331.1 L487,332.4 L488.3,336.8 L490,338.1 L491.8,335.5 L493.5,330.2 L494.9,329.8 L496.2,334.2 L497.9,335.5 L499.7,335 L501,332.4 L503.2,329.8 L504.9,326.3 L506.7,327.2 L508.4,323.6 L510.2,323.2 L511.5,325.8 L513.3,320.1 L515.5,318.6 L518.1,321.7 L520.3,325.7 L521.6,329.2 L524.3,332.7 L526,338.8 L527.8,345.8 L530,350.6 L532.1,344.9 L534.3,337.9 L535.6,327.4 L538.3,325.7 L540,330 L541.8,329.6 L543.5,325.7 L546.6,325.2 L548.4,330.9 L550.1,337 L551.9,338.8 L552.7,344.9 L554.9,344.1 L557.1,342.3 L558.9,335.3 L560.6,331.8 L562.4,337 L564.6,339.7 L566.3,339.2 L567.6,330.9 L569.8,330.3 L571.9,328.3 L573.7,323.9 L574.6,318.2 L575.9,316.5 L577.6,321.3 L579.4,325.2 L581.1,318.6 L582.9,317.3 L584.6,322.2 L586,323.5 L586.8,330.9 L588.6,334.4 L590.3,336.2 L591.6,328.3 L593.4,337 L594.7,342.3 L596.5,337 L598.2,329.6 L600,330.9 L601.7,336.6 L603.5,330 L604.8,326.1 L607,323 L608.7,319.5 L610.9,320.4 L611.8,316 L613.1,310.3 L615.3,308.1 L617,310.3 L618.4,316.9 L620.6,317.6 L622.4,318.3 L624,322.5 L625.1,326 L627.2,326.7 L629.3,329.6 L631.4,323.9 L633.5,326.7 L635.3,319.7 L636.7,316.1 L638.5,319.7 L640.6,315.4 L642.7,313.3 L644.9,309.1 L647,308 L649.1,307.7 L650.5,304.1 L651.2,302.4 L651.4,430.2 L400.8,430.2 Z" fill="url(#gB)" stroke="none"/>
<clipPath id="clipC"><rect x="400.8" y="280.2" width="250.9" height="150"/></clipPath>
<polyline points="401.5,335.9 402.8,341.2 404.1,347.3 405.9,352.1 407.2,349 408.5,347.3 410.3,349.5 411.6,342 412.5,338.1 414.2,337.7 415.5,339.4 416.8,330.2 418.1,334.6 420.3,332.4 422.5,333.3 424.3,330.7 425.6,326.3 426.9,328 428.2,334.2 430,333.3 431.3,327.6 432.6,332.8 433.9,335.5 435.2,332.4 437,323.2 438.3,324.5 439.2,328 440.5,324.1 441.8,323.6 443.1,329.3 444.9,332.4 446.6,339.4 448.4,337.7 450.6,336.8 452.3,341.2 454.1,335.5 455.5,335 457.6,335.9 459.4,326.3 461.1,325 462.9,320.1 464.6,317.5 466.4,316.2 468.1,325 469.5,319.7 470.8,319.3 472.5,322.3 473.8,328 475.1,334.2 476.9,335 478.6,335.9 480.4,329.3 482.2,331.5 483.9,332.8 485.7,331.1 487,332.4 488.3,336.8 490,338.1 491.8,335.5 493.5,330.2 494.9,329.8 496.2,334.2 497.9,335.5 499.7,335 501,332.4 503.2,329.8 504.9,326.3 506.7,327.2 508.4,323.6 510.2,323.2 511.5,325.8 513.3,320.1 515.5,318.6 518.1,321.7 520.3,325.7 521.6,329.2 524.3,332.7 526,338.8 527.8,345.8 530,350.6 532.1,344.9 534.3,337.9 535.6,327.4 538.3,325.7 540,330 541.8,329.6 543.5,325.7 546.6,325.2 548.4,330.9 550.1,337 551.9,338.8 552.7,344.9 554.9,344.1 557.1,342.3 558.9,335.3 560.6,331.8 562.4,337 564.6,339.7 566.3,339.2 567.6,330.9 569.8,330.3 571.9,328.3 573.7,323.9 574.6,318.2 575.9,316.5 577.6,321.3 579.4,325.2 581.1,318.6 582.9,317.3 584.6,322.2 586,323.5 586.8,330.9 588.6,334.4 590.3,336.2 591.6,328.3 593.4,337 594.7,342.3 596.5,337 598.2,329.6 600,330.9 601.7,336.6 603.5,330 604.8,326.1 607,323 608.7,319.5 610.9,320.4 611.8,316 613.1,310.3 615.3,308.1 617,310.3 618.4,316.9 620.6,317.6 622.4,318.3 624,322.5 625.1,326 627.2,326.7 629.3,329.6 631.4,323.9 633.5,326.7 635.3,319.7 636.7,316.1 638.5,319.7 640.6,315.4 642.7,313.3 644.9,309.1 647,308 649.1,307.7 650.5,304.1 651.2,302.4" fill="none" stroke="#ff6b6b" stroke-width="3.5" stroke-linejoin="round" stroke-linecap="round" clip-path="url(#clipC)"/>
<rect x="400.8" y="280.2" width="250.6" height="150" fill="none" stroke="#000" stroke-width="1.8"/>
<line x1="396.5" y1="280.2" x2="400.8" y2="280.2" stroke="#000" stroke-width="1.8"/>
<text x="392.2" y="284" font-size="10.9" font-weight="normal" text-anchor="end" fill="#111" >−12</text>
<line x1="396.5" y1="317.7" x2="400.8" y2="317.7" stroke="#000" stroke-width="1.8"/>
<text x="392.2" y="321.5" font-size="10.9" font-weight="normal" text-anchor="end" fill="#111" >−13</text>
<line x1="396.5" y1="355.2" x2="400.8" y2="355.2" stroke="#000" stroke-width="1.8"/>
<text x="392.2" y="359" font-size="10.9" font-weight="normal" text-anchor="end" fill="#111" >−14</text>
<line x1="396.5" y1="392.7" x2="400.8" y2="392.7" stroke="#000" stroke-width="1.8"/>
<text x="392.2" y="396.5" font-size="10.9" font-weight="normal" text-anchor="end" fill="#111" >−15</text>
<line x1="396.5" y1="430.2" x2="400.8" y2="430.2" stroke="#000" stroke-width="1.8"/>
<text x="392.2" y="434" font-size="10.9" font-weight="normal" text-anchor="end" fill="#111" >−16</text>
<line x1="398.4" y1="298.95" x2="400.8" y2="298.95" stroke="#000" stroke-width="1.8"/>
<line x1="398.4" y1="336.45" x2="400.8" y2="336.45" stroke="#000" stroke-width="1.8"/>
<line x1="398.4" y1="373.95" x2="400.8" y2="373.95" stroke="#000" stroke-width="1.8"/>
<line x1="398.4" y1="411.45" x2="400.8" y2="411.45" stroke="#000" stroke-width="1.8"/>
<line x1="400.8" y1="430.2" x2="400.8" y2="434.5" stroke="#000" stroke-width="1.8"/>
<text x="400.8" y="447.4" font-size="10.9" font-weight="normal" text-anchor="middle" fill="#111" >200</text>
<line x1="463.45" y1="430.2" x2="463.45" y2="434.5" stroke="#000" stroke-width="1.8"/>
<text x="463.45" y="447.4" font-size="10.9" font-weight="normal" text-anchor="middle" fill="#111" >250</text>
<line x1="526.1" y1="430.2" x2="526.1" y2="434.5" stroke="#000" stroke-width="1.8"/>
<text x="526.1" y="447.4" font-size="10.9" font-weight="normal" text-anchor="middle" fill="#111" >300</text>
<line x1="588.75" y1="430.2" x2="588.75" y2="434.5" stroke="#000" stroke-width="1.8"/>
<text x="588.75" y="447.4" font-size="10.9" font-weight="normal" text-anchor="middle" fill="#111" >350</text>
<line x1="651.4" y1="430.2" x2="651.4" y2="434.5" stroke="#000" stroke-width="1.8"/>
<text x="651.4" y="447.4" font-size="10.9" font-weight="normal" text-anchor="middle" fill="#111" >400</text>
<line x1="432.12" y1="430.2" x2="432.12" y2="432.6" stroke="#000" stroke-width="1.8"/>
<line x1="494.77" y1="430.2" x2="494.77" y2="432.6" stroke="#000" stroke-width="1.8"/>
<line x1="557.42" y1="430.2" x2="557.42" y2="432.6" stroke="#000" stroke-width="1.8"/>
<line x1="620.08" y1="430.2" x2="620.08" y2="432.6" stroke="#000" stroke-width="1.8"/>
<text x="524" y="463.4" font-size="10.9" font-weight="normal" text-anchor="middle" fill="#111" >Wavelength (nm)</text>
<text x="363" y="357.2" font-size="10.9" font-weight="normal" text-anchor="middle" fill="#111" transform="rotate(-90 363 357.2)">Spectral intensity (dB)</text>
<rect x="424.6" y="257.1" width="37.3" height="18.5" fill="url(#gL)" stroke="#ff6b6b" stroke-width="3.4"/>
<text x="468.6" y="272.8" font-size="10.9" font-weight="normal" text-anchor="start" fill="#111" >11th–12th HHG after CPPLN</text>
<text x="353.2" y="271" font-size="15.5" font-weight="bold" text-anchor="start" fill="#000" >c</text>
<clipPath id="clipD"><rect x="49.2" y="490.7" width="602.3" height="180.1"/></clipPath>
<g clip-path="url(#clipD)">
<polyline points="49.5,665.2 51.9,664.3 53,663.6 53.8,666.5 54.2,660 54.6,630 55.3,600 55.7,575 56.2,550 56.6,525 57.4,515 58.8,500.5 59.1,513 59.9,512.5 63.3,515.4 66.7,518.7 70.7,522.7 74.6,525.8 75.7,526.7 77.2,520.8 77.5,528.9 78.6,540 79.8,575 80.4,610 81.1,635 81.3,643 82.3,634.3 84,633.7 87.5,631.9 89.9,627.8 92.2,625.5 95.3,623 98,622.2 100.5,620.8 102.7,620.5 104.9,619 106.2,617.9 107.6,616.4 110.9,615.6 113,614.5 115,613.8 116.6,612.9 117.5,610.2 118.4,613.4 120.2,630 121.3,651.1 122.6,649.2 123.92,649.38 125.23,649.69 126.55,649.65 127.87,649.22 129.18,649.35 130.5,649.6 131.82,649.94 133.13,649.15 134.45,649.89 135.77,649.87 137.08,649.57 138.4,649.6 141.7,647.6 143.23,647.62 144.77,647.8 146.3,648.2 147.6,648.1 148.9,648.39 150.2,648.56 151.5,648.73 152.8,648.8 154.12,649.33 155.44,649.22 156.76,649.15 158.08,649.56 159.4,649.2 160.73,648.58 162.07,648.16 163.4,648.1 165.13,648.57 166.87,648.42 168.6,649.2 169.93,649.22 171.27,650.08 172.6,650.5 173.9,649.97 175.2,649.88 176.5,649.12 177.8,648.5 179.12,648.79 180.45,649.05 181.78,649.1 183.1,649.6 184.4,649.46 185.7,649.92 187,650.5 188.32,650.49 189.64,649.87 190.96,649.84 192.28,649.33 193.6,649.6 194.9,649.9 196.2,649.29 197.5,649.39 198.8,649.6 200.1,651.8 202.8,655.1 204.75,654.89 206.7,654 208.35,654.21 210,654.4 211.65,654.51 213.3,654 214.69,654.03 216.07,654.02 217.46,653.33 218.84,653.64 220.23,653.51 221.61,653.73 223,653.3 224.39,653.08 225.77,653.19 227.16,652.6 228.54,652.8 229.93,652.64 231.31,652.39 232.7,652.6 234.27,652.78 235.85,652.29 237.43,652.73 239,652.2 241.1,656.8 243.1,658.9 244.4,658.93 245.7,658.89 247,658.87 248.3,658.86 249.6,658.34 250.9,658.55 252.2,658.32 253.5,658.5 254.89,658.38 256.28,658.08 257.67,658.83 259.06,658.12 260.45,658.5 261.84,658.14 263.23,658.63 264.62,658.41 266.01,657.9 267.4,658.2 268.79,658.46 270.17,658.5 271.56,658.41 272.95,658.06 274.34,657.63 275.73,657.62 277.11,658.24 278.5,657.8 279.9,658.21 281.3,658.25 282.7,658.9 284.07,659.26 285.43,659.05 286.8,659 288.17,658.83 289.53,658.88 290.9,658.73 292.27,658.56 293.63,659.33 295,659 296.33,659.04 297.65,659.19 298.98,659.06 300.31,659.52 301.64,658.94 302.96,659.32 304.29,659.09 305.62,659.24 306.95,660.07 308.27,659.87 309.6,659.8 310.93,659.8 312.25,659.95 313.58,660.33 314.91,659.91 316.24,660.2 317.56,660.35 318.89,660.12 320.22,660.33 321.55,660.61 322.87,660.8 324.2,660.5 325.53,660.19 326.85,660.89 328.18,660.05 329.51,660.73 330.84,660.78 332.16,660.17 333.49,660.43 334.82,660.78 336.15,660.06 337.47,660.62 338.8,660.5 340.16,660.74 341.52,660.47 342.88,660.64 344.24,660.17 345.6,660.13 346.96,660.26 348.32,660.07 349.68,660.2 351.04,660.72 352.4,660.37 353.76,660.14 355.12,660.05 356.48,660.65 357.84,660.17 359.2,660.2 362.2,662.4 363.51,662.83 364.82,662.41 366.13,662.42 367.44,662.76 368.75,662.62 370.06,662.47 371.37,662.33 372.68,662.74 373.99,662.32 375.3,662.4 376.61,662.73 377.93,661.92 379.24,662.2 380.55,662.23 381.87,662.57 383.18,661.9 384.49,662.35 385.81,662.19 387.12,662.18 388.43,662.05 389.75,662.31 391.06,661.69 392.37,661.7 393.69,661.48 395,661.7 396.4,661.34 397.8,661.53 399.2,662.21 400.6,662.19 402,661.58 403.4,662.07 404.8,662 406.2,662.15 407.6,662.25 409,661.98 410.4,662.2 411.77,662.62 413.13,662.17 414.5,662.32 415.87,662.32 417.23,661.92 418.6,661.81 419.97,662.12 421.33,662.44 422.7,662.48 424.07,662.41 425.43,661.85 426.8,662.57 428.17,662.47 429.53,662.54 430.9,662.2 432.26,662.19 433.62,662.52 434.98,661.71 436.34,661.67 437.7,661.63 439.06,661.82 440.42,661.79 441.78,661.71 443.14,662.02 444.5,661.52 445.86,661.99 447.22,661.58 448.58,662.01 449.94,661.4 451.3,661.8 452.66,661.62 454.02,662.17 455.38,661.8 456.74,662.04 458.11,661.89 459.47,661.83 460.83,661.44 462.19,661.78 463.55,661.29 464.91,661.96 466.27,662.09 467.63,661.99 468.99,661.25 470.36,661.5 471.72,661.47 473.08,661.27 474.44,661.73 475.8,661.6 477.35,662.27 478.9,662.23 480.45,663.13 482,663.2 483.36,663.47 484.72,662.87 486.08,663.44 487.44,663.54 488.8,662.93 490.16,663.27 491.52,663.32 492.88,663.3 494.24,662.84 495.6,663.35 496.96,663.32 498.32,663.49 499.68,663.47 501.04,663.04 502.4,663.2 503.71,663.42 505.03,663.57 506.34,663.61 507.66,662.97 508.97,662.87 510.29,663.45 511.6,663.08 512.91,663.41 514.23,663.77 515.54,663.28 516.86,663.19 518.17,663.39 519.49,663.59 520.8,663.11 522.11,663.38 523.43,663.18 524.74,663.67 526.06,663.84 527.37,663.45 528.69,663.47 530,663.6 531.35,663.86 532.7,663.79 534.05,664.05 535.4,664.5 536.72,664.34 538.04,664.46 539.36,664.11 540.68,664.71 542,664.56 543.32,664.3 544.64,664.1 545.95,664.71 547.27,664.14 548.59,664.14 549.91,664.13 551.23,664.08 552.55,664.82 553.87,664.25 555.19,664.28 556.51,664.75 557.83,664.55 559.15,664.16 560.47,664.38 561.79,664.78 563.11,664.32 564.43,664.62 565.75,664.06 567.06,664.63 568.38,664.67 569.7,664.71 571.02,664.57 572.34,664.29 573.66,664.01 574.98,664.42 576.3,664.4 577.62,664.63 578.94,664.12 580.26,664.19 581.58,664.43 582.9,664.62 584.22,664.76 585.54,664.06 586.85,664.12 588.17,664.67 589.49,664.53 590.81,664.6 592.13,664.85 593.45,664.8 594.77,664.71 596.09,664.65 597.41,664.31 598.73,664.53 600.05,664.12 601.37,664.63 602.69,664.63 604.01,664.6 605.33,664.35 606.65,664.29 607.96,664.33 609.28,663.98 610.6,664.71 611.92,664.44 613.24,664.3 614.56,664.44 615.88,664.6 617.2,664.4 618.56,664.29 619.92,664.7 621.29,664.78 622.65,664.3 624.01,664.07 625.37,664.63 626.73,664.84 628.1,664.08 629.46,664.59 630.82,664.69 632.18,664.78 633.54,664.06 634.9,664.03 636.27,664.84 637.63,664.06 638.99,664.11 640.35,664.47 641.71,664.35 643.08,664.63 644.44,664.12 645.8,664.4 647.1,664.57 648.4,663.75 649.7,664.04 651,663.6" fill="none" stroke="#000" stroke-width="2.6" stroke-linejoin="round"/>
<path d="M72.3,489 C71.88,491.83 70.6,500.67 69.8,506 C69,511.33 68.2,516.17 67.5,521 C66.8,525.83 66.18,530.67 65.6,535 C65.02,539.33 64.52,543 64,547 C63.48,551 62.97,555.17 62.5,559 C62.03,562.83 61.72,565.25 61.2,570 C60.68,574.75 59.92,581.67 59.4,587.5 C58.88,593.33 58.53,599.15 58.1,605 C57.67,610.85 57.07,617.6 56.8,622.6 C56.53,627.6 56.5,630.77 56.5,635 C56.5,639.23 56.6,644 56.8,648 C57,652 57.38,656.08 57.7,659 C58.02,661.92 58.37,663.5 58.7,665.5 C59.03,667.5 59.53,670.08 59.7,671" fill="none" stroke="#ff0000" stroke-width="2.4"/>
<path d="M56.5,489 C56.5,493.33 56.48,507.33 56.5,515 C56.52,522.67 56.48,528.33 56.6,535 C56.72,541.67 56.92,549.17 57.2,555 C57.48,560.83 57.92,565.83 58.3,570 C58.68,574.17 59.03,577.08 59.5,580 C59.97,582.92 60.47,584.78 61.1,587.5 C61.73,590.22 62.5,593.38 63.3,596.3 C64.1,599.22 64.95,602.08 65.9,605 C66.85,607.92 67.9,611.17 69,613.8 C70.1,616.43 71.37,618.55 72.5,620.8 C73.63,623.05 74.27,624.77 75.8,627.3 C77.33,629.83 79.75,633.38 81.7,636 C83.65,638.62 85.55,640.95 87.5,643 C89.45,645.05 91.45,646.73 93.4,648.3 C95.35,649.87 97.27,651.13 99.2,652.4 C101.13,653.67 103.05,654.78 105,655.9 C106.95,657.02 108.95,658.13 110.9,659.1 C112.85,660.07 114.75,660.87 116.7,661.7 C118.65,662.53 120.65,663.35 122.6,664.1 C124.55,664.85 126.47,665.58 128.4,666.2 C130.33,666.82 132.25,667.28 134.2,667.8 C136.15,668.32 137.95,668.85 140.1,669.3 C142.25,669.75 145.45,670.22 147.1,670.5 C148.75,670.78 149.52,670.92 150,671" fill="none" stroke="#009a00" stroke-width="2.7"/>
<path d="M73.3,490.21 C73.68,491.45 74.83,495.31 75.6,497.63 C76.37,499.94 77.13,502.07 77.9,504.11 C78.67,506.16 79.43,508.06 80.2,509.88 C80.97,511.7 81.73,513.41 82.5,515.06 C83.27,516.71 84.03,518.26 84.8,519.76 C85.57,521.26 86.33,522.69 87.1,524.06 C87.87,525.44 88.63,526.75 89.4,528.02 C90.17,529.29 90.93,530.5 91.7,531.68 C92.47,532.86 93.23,533.99 94,535.09 C94.77,536.19 95.53,537.24 96.3,538.27 C97.07,539.3 97.83,540.29 98.6,541.26 C99.37,542.22 100.13,543.16 100.9,544.07 C101.67,544.98 102.43,545.86 103.2,546.72 C103.97,547.58 104.73,548.41 105.5,549.23 C106.27,550.04 107.03,550.83 107.8,551.61 C108.57,552.38 109.33,553.13 110.1,553.87 C110.87,554.6 111.63,555.32 112.4,556.02 C113.17,556.73 113.93,557.41 114.7,558.08 C115.47,558.75 116.23,559.41 117,560.05 C117.77,560.69 118.53,561.31 119.3,561.93 C120.07,562.54 120.83,563.15 121.6,563.74 C122.37,564.33 123.13,564.9 123.9,565.47 C124.67,566.04 125.43,566.59 126.2,567.14 C126.97,567.68 127.73,568.22 128.5,568.74 C129.27,569.27 130.03,569.78 130.8,570.29 C131.57,570.79 132.33,571.29 133.1,571.78 C133.87,572.27 134.63,572.75 135.4,573.22 C136.17,573.69 136.93,574.16 137.7,574.61 C138.47,575.07 139.28,575.55 140,575.96 C140.72,576.37 139.49,575.79 142,577.1 C144.51,578.41 150.71,581.74 155.06,583.82 C159.42,585.9 163.77,587.77 168.13,589.56 C172.48,591.34 176.84,592.98 181.19,594.54 C185.55,596.09 189.9,597.53 194.26,598.91 C198.61,600.29 202.97,601.57 207.32,602.79 C211.68,604.02 216.03,605.17 220.38,606.28 C224.74,607.38 229.09,608.42 233.45,609.42 C237.8,610.42 242.16,611.37 246.51,612.28 C250.87,613.19 255.22,614.05 259.58,614.89 C263.93,615.72 268.29,616.52 272.64,617.28 C277,618.05 281.35,618.78 285.71,619.49 C290.06,620.2 294.41,620.88 298.77,621.54 C303.12,622.2 307.48,622.83 311.83,623.44 C316.19,624.05 320.54,624.64 324.9,625.21 C329.25,625.78 333.61,626.32 337.96,626.86 C342.32,627.39 346.67,627.9 351.03,628.4 C355.38,628.9 359.74,629.38 364.09,629.85 C368.44,630.32 372.8,630.77 377.15,631.22 C381.51,631.66 385.86,632.08 390.22,632.5 C394.57,632.92 398.93,633.32 403.28,633.71 C407.64,634.1 411.99,634.48 416.35,634.86 C420.7,635.23 425.06,635.59 429.41,635.94 C433.76,636.29 438.12,636.63 442.47,636.97 C446.83,637.3 451.18,637.62 455.54,637.94 C459.89,638.26 464.25,638.56 468.6,638.86 C472.96,639.16 477.31,639.46 481.67,639.74 C486.02,640.03 490.38,640.31 494.73,640.58 C499.09,640.85 503.44,641.12 507.79,641.38 C512.15,641.64 516.5,641.89 520.86,642.14 C525.21,642.39 529.57,642.63 533.92,642.86 C538.28,643.1 542.63,643.33 546.99,643.56 C551.34,643.78 555.7,644 560.05,644.22 C564.41,644.44 568.76,644.65 573.12,644.85 C577.47,645.06 581.82,645.26 586.18,645.46 C590.53,645.66 594.89,645.85 599.24,646.04 C603.6,646.23 607.95,646.42 612.31,646.6 C616.66,646.78 621.02,646.96 625.37,647.13 C629.73,647.3 634.08,647.48 638.44,647.64 C642.79,647.81 649.32,648.05 651.5,648.13" fill="none" stroke="#0000c8" stroke-width="2.7"/>
<path d="M137,490.67 C137.99,491.55 140.96,494.28 142.95,495.96 C144.93,497.64 146.91,499.23 148.89,500.76 C150.88,502.29 152.86,503.74 154.84,505.14 C156.82,506.54 158.81,507.87 160.79,509.16 C162.77,510.44 164.75,511.67 166.74,512.87 C168.72,514.06 170.7,515.2 172.68,516.3 C174.67,517.41 176.65,518.47 178.63,519.5 C180.61,520.53 182.6,521.53 184.58,522.49 C186.56,523.45 188.54,524.38 190.53,525.29 C192.51,526.19 194.49,527.07 196.47,527.92 C198.46,528.77 200.44,529.6 202.42,530.4 C204.4,531.2 206.39,531.98 208.37,532.74 C210.35,533.5 212.33,534.24 214.32,534.96 C216.3,535.68 218.28,536.38 220.26,537.06 C222.25,537.75 224.23,538.41 226.21,539.07 C228.19,539.72 230.18,540.35 232.16,540.97 C234.14,541.59 236.12,542.2 238.11,542.79 C240.09,543.38 242.07,543.96 244.05,544.53 C246.04,545.1 248.18,545.69 250,546.19 C251.82,546.7 251.89,546.74 255,547.54 C258.11,548.34 264.11,549.89 268.67,550.99 C273.23,552.1 277.79,553.14 282.34,554.16 C286.9,555.17 291.46,556.13 296.02,557.07 C300.57,558 305.13,558.89 309.69,559.76 C314.25,560.63 318.8,561.46 323.36,562.26 C327.92,563.07 332.48,563.85 337.03,564.6 C341.59,565.35 346.15,566.08 350.71,566.79 C355.26,567.49 359.82,568.18 364.38,568.84 C368.94,569.51 373.49,570.15 378.05,570.78 C382.61,571.41 387.17,572.02 391.72,572.61 C396.28,573.2 400.84,573.78 405.4,574.34 C409.95,574.91 414.51,575.46 419.07,575.99 C423.63,576.53 428.18,577.05 432.74,577.56 C437.3,578.07 441.86,578.56 446.41,579.05 C450.97,579.54 455.53,580.01 460.09,580.48 C464.64,580.94 469.2,581.4 473.76,581.84 C478.32,582.29 482.87,582.73 487.43,583.15 C491.99,583.58 496.55,584 501.1,584.41 C505.66,584.82 510.22,585.22 514.78,585.62 C519.33,586.01 523.89,586.4 528.45,586.78 C533.01,587.16 537.56,587.53 542.12,587.9 C546.68,588.26 551.24,588.62 555.79,588.98 C560.35,589.33 564.91,589.68 569.47,590.02 C574.02,590.36 578.58,590.7 583.14,591.03 C587.7,591.36 592.25,591.69 596.81,592.01 C601.37,592.33 605.93,592.64 610.48,592.95 C615.04,593.26 619.6,593.57 624.16,593.87 C628.71,594.17 633.27,594.47 637.83,594.76 C642.39,595.05 649.22,595.48 651.5,595.62" fill="none" stroke="#ff8c00" stroke-width="2.7"/>
</g>
<rect x="49.2" y="490.7" width="602.3" height="180.1" fill="none" stroke="#000" stroke-width="1.8"/>
<line x1="44.9" y1="670.8" x2="49.2" y2="670.8" stroke="#000" stroke-width="1.8"/>
<text x="40.6" y="675.1" font-size="10.9" font-weight="normal" text-anchor="end" fill="#111" >0</text>
<line x1="44.9" y1="598.56" x2="49.2" y2="598.56" stroke="#000" stroke-width="1.8"/>
<text x="40.6" y="602.86" font-size="10.9" font-weight="normal" text-anchor="end" fill="#111" >0.01</text>
<line x1="44.9" y1="526.32" x2="49.2" y2="526.32" stroke="#000" stroke-width="1.8"/>
<text x="40.6" y="530.62" font-size="10.9" font-weight="normal" text-anchor="end" fill="#111" >0.02</text>
<line x1="46.8" y1="634.68" x2="49.2" y2="634.68" stroke="#000" stroke-width="1.8"/>
<line x1="46.8" y1="562.44" x2="49.2" y2="562.44" stroke="#000" stroke-width="1.8"/>
<line x1="651.5" y1="670.8" x2="655.8" y2="670.8" stroke="#000" stroke-width="1.8"/>
<text x="659.6" y="674.6" font-size="10.9" font-weight="normal" text-anchor="start" fill="#111" >2</text>
<line x1="651.5" y1="625.8" x2="655.8" y2="625.8" stroke="#000" stroke-width="1.8"/>
<text x="659.6" y="629.6" font-size="10.9" font-weight="normal" text-anchor="start" fill="#111" >3</text>
<line x1="651.5" y1="580.8" x2="655.8" y2="580.8" stroke="#000" stroke-width="1.8"/>
<text x="659.6" y="584.6" font-size="10.9" font-weight="normal" text-anchor="start" fill="#111" >4</text>
<line x1="651.5" y1="535.8" x2="655.8" y2="535.8" stroke="#000" stroke-width="1.8"/>
<text x="659.6" y="539.6" font-size="10.9" font-weight="normal" text-anchor="start" fill="#111" >5</text>
<line x1="651.5" y1="490.8" x2="655.8" y2="490.8" stroke="#000" stroke-width="1.8"/>
<text x="659.6" y="494.6" font-size="10.9" font-weight="normal" text-anchor="start" fill="#111" >6</text>
<line x1="651.5" y1="648.3" x2="653.9" y2="648.3" stroke="#000" stroke-width="1.8"/>
<line x1="651.5" y1="603.3" x2="653.9" y2="603.3" stroke="#000" stroke-width="1.8"/>
<line x1="651.5" y1="558.3" x2="653.9" y2="558.3" stroke="#000" stroke-width="1.8"/>
<line x1="651.5" y1="513.3" x2="653.9" y2="513.3" stroke="#000" stroke-width="1.8"/>
<line x1="138" y1="670.8" x2="138" y2="675.1" stroke="#000" stroke-width="1.8"/>
<text x="138" y="687.6" font-size="10.9" font-weight="normal" text-anchor="middle" fill="#111" >1</text>
<line x1="236.7" y1="670.8" x2="236.7" y2="675.1" stroke="#000" stroke-width="1.8"/>
<text x="236.7" y="687.6" font-size="10.9" font-weight="normal" text-anchor="middle" fill="#111" >2</text>
<line x1="335.4" y1="670.8" x2="335.4" y2="675.1" stroke="#000" stroke-width="1.8"/>
<text x="335.4" y="687.6" font-size="10.9" font-weight="normal" text-anchor="middle" fill="#111" >3</text>
<line x1="434.1" y1="670.8" x2="434.1" y2="675.1" stroke="#000" stroke-width="1.8"/>
<text x="434.1" y="687.6" font-size="10.9" font-weight="normal" text-anchor="middle" fill="#111" >4</text>
<line x1="532.8" y1="670.8" x2="532.8" y2="675.1" stroke="#000" stroke-width="1.8"/>
<text x="532.8" y="687.6" font-size="10.9" font-weight="normal" text-anchor="middle" fill="#111" >5</text>
<line x1="631.5" y1="670.8" x2="631.5" y2="675.1" stroke="#000" stroke-width="1.8"/>
<text x="631.5" y="687.6" font-size="10.9" font-weight="normal" text-anchor="middle" fill="#111" >6</text>
<line x1="88.65" y1="670.8" x2="88.65" y2="673.2" stroke="#000" stroke-width="1.8"/>
<line x1="187.35" y1="670.8" x2="187.35" y2="673.2" stroke="#000" stroke-width="1.8"/>
<line x1="286.05" y1="670.8" x2="286.05" y2="673.2" stroke="#000" stroke-width="1.8"/>
<line x1="384.75" y1="670.8" x2="384.75" y2="673.2" stroke="#000" stroke-width="1.8"/>
<line x1="483.45" y1="670.8" x2="483.45" y2="673.2" stroke="#000" stroke-width="1.8"/>
<line x1="582.15" y1="670.8" x2="582.15" y2="673.2" stroke="#000" stroke-width="1.8"/>
<line x1="548" y1="500.3" x2="579.4" y2="500.3" stroke="#000" stroke-width="2.5"/>
<text x="584.5" y="504.1" font-size="10.9" font-weight="normal" text-anchor="start" fill="#111" >RLV bands</text>
<line x1="548" y1="519.25" x2="579.4" y2="519.25" stroke="#ff0000" stroke-width="2.5"/>
<text x="584.5" y="523.05" font-size="10.9" font-weight="normal" text-anchor="start" fill="#111" >2nd-HHG</text>
<line x1="548" y1="538.2" x2="579.4" y2="538.2" stroke="#009a00" stroke-width="2.5"/>
<text x="584.5" y="542" font-size="10.9" font-weight="normal" text-anchor="start" fill="#111" >4th-HHG</text>
<line x1="548" y1="557.15" x2="579.4" y2="557.15" stroke="#0000c8" stroke-width="2.5"/>
<text x="584.5" y="560.95" font-size="10.9" font-weight="normal" text-anchor="start" fill="#111" >8th-HHG</text>
<line x1="548" y1="576.1" x2="579.4" y2="576.1" stroke="#ff8c00" stroke-width="2.5"/>
<text x="584.5" y="579.9" font-size="10.9" font-weight="normal" text-anchor="start" fill="#111" >12th-HHG</text>
<text x="83.1" y="562.4" font-size="10.9" font-weight="normal" text-anchor="start" fill="#111" >B1</text>
<text x="90.6" y="607.8" font-size="10.9" font-weight="normal" text-anchor="start" fill="#111" >B2</text>
<text x="148" y="642.5" font-size="10.9" font-weight="normal" text-anchor="start" fill="#111" >B3</text>
<text x="209.9" y="647.8" font-size="10.9" font-weight="normal" text-anchor="start" fill="#111" >B4</text>
<text x="301.4" y="654.6" font-size="10.9" font-weight="normal" text-anchor="start" fill="#111" >B5</text>
<text x="448.1" y="655.6" font-size="10.9" font-weight="normal" text-anchor="start" fill="#111" >B6</text>
<text x="350.2" y="704.3" font-size="10.9" font-weight="normal" text-anchor="middle" fill="#111" >Reciprocal lattice vectors (μm<tspan font-size="7.5" dy="-4">−1</tspan><tspan dy="4">)</tspan></text>
<text x="10" y="580" font-size="10.9" font-weight="normal" text-anchor="middle" fill="#111" transform="rotate(-90 10 580)">Fourier coefficient (<tspan font-style="italic">d</tspan><tspan font-size="7.5" dy="2.5">33</tspan><tspan dy="-2.5">)</tspan></text>
<text x="682.5" y="580.4" font-size="10.9" font-weight="normal" text-anchor="middle" fill="#111" transform="rotate(-90 682.5 580.4)">Wavelength (μm)</text>
<text x="2.4" y="495.5" font-size="15.5" font-weight="bold" text-anchor="start" fill="#000" >d</text>
</svg>
</body></html>
